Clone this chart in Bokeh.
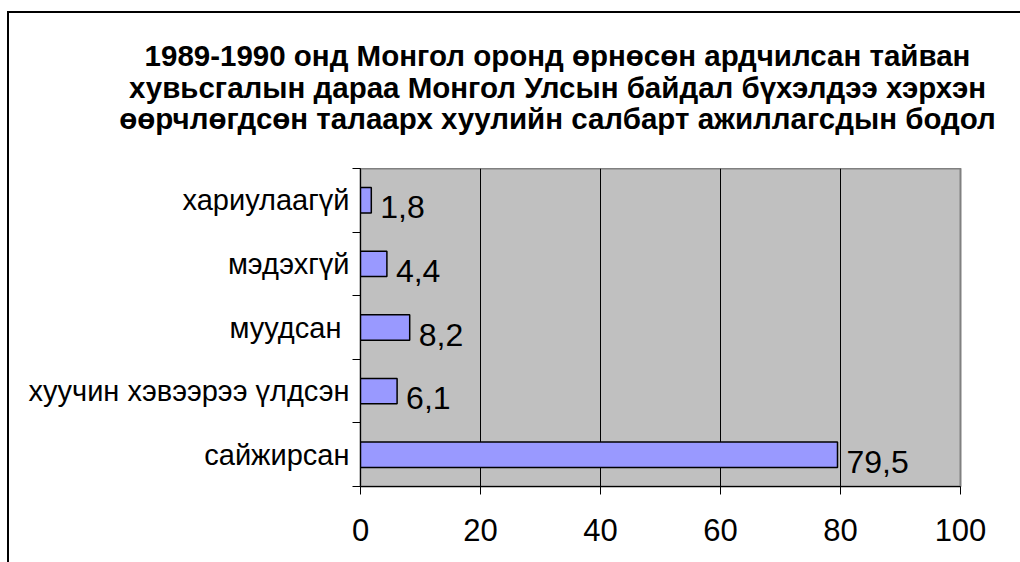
from bokeh.plotting import figure
from bokeh.layouts import column
from bokeh.models import Range1d, FixedTicker, ColumnDataSource, InlineStyleSheet
from bokeh.core.properties import value
from bokeh.embed import file_html
from bokeh.resources import INLINE

# ---- data (bottom to top) ----
categories = ["сайжирсан", "хуучин хэвээрээ үлдсэн", "муудсан ", "мэдэхгүй", "хариулаагүй"]
values = [79.5, 6.1, 8.2, 4.4, 1.8]
value_labels = ["79,5", "6,1", "8,2", "4,4", "1,8"]
x_ticks = [0, 20, 40, 60, 80, 100]
title_lines = [
    "1989-1990 онд Монгол оронд өрнөсөн ардчилсан тайван",
    "хувьсгалын дараа Монгол Улсын байдал бүхэлдээ хэрхэн",
    "өөрчлөгдсөн талаарх хуулийн салбарт ажиллагсдын бодол",
]

FONT = "Liberation Sans"

# ---- title strip (pixel-like coordinates, y grows downward) ----
tp = figure(width=1020, height=168, x_range=Range1d(0, 1020), y_range=Range1d(168, 0),
            min_border=0, output_backend="svg", toolbar_location=None)
tp.frame_align = False
tp.axis.visible = False
tp.grid.visible = False
tp.outline_line_color = None
tp.background_fill_color = None
tp.border_fill_color = None
tsrc = ColumnDataSource(dict(x=[557, 557, 557], y=[55, 87, 118], t=title_lines))
tp.text(x="x", y="y", text="t", source=tsrc, text_font=value(FONT), text_font_size="29.5px",
        text_font_style="bold", text_align="center", text_baseline="alphabetic", text_color="black")

# ---- bar chart ----
ypos = [i + 0.5 for i in range(len(categories))]
src = ColumnDataSource(dict(y=ypos, v=values, lab=value_labels, cat=categories))

p = figure(
    frame_width=600, frame_height=318,
    min_border_left=360, min_border_right=60, min_border_top=0, min_border_bottom=76,
    x_range=Range1d(0, 100), y_range=Range1d(0, len(categories)),
    output_backend="svg", toolbar_location=None,
    background_fill_color="#C0C0C0", border_fill_color=None,
)
p.frame_align = False
p.outline_line_color = "#808080"
p.outline_line_width = 2

p.hbar(y="y", left=0, right="v", height=0.4, source=src,
       fill_color="#9999FF", line_color="black", line_width=1.5)

p.text(x="v", y="y", text="lab", source=src, x_offset=9, y_offset=7,
       text_font=value(FONT), text_font_size="32px", text_color="black",
       text_align="left", text_baseline="alphabetic")

# x axis
p.xaxis.ticker = FixedTicker(ticks=x_ticks)
p.xaxis.major_tick_out = 8
p.xaxis.major_tick_in = 0
p.xaxis.minor_tick_out = 0
p.xaxis.minor_tick_in = 0
p.xaxis.axis_line_color = "black"
p.xaxis.major_tick_line_color = "black"
p.xaxis.major_label_text_font = FONT
p.xaxis.major_label_text_font_size = "31px"
p.xaxis.major_label_text_color = "black"
p.xaxis.major_label_standoff = 24

# y axis: labels at centres, ticks at category boundaries
p.yaxis.ticker = FixedTicker(ticks=ypos, minor_ticks=list(range(len(categories) + 1)))
p.yaxis.major_label_overrides = {y: c for y, c in zip(ypos, categories)}
p.yaxis.major_tick_out = 0
p.yaxis.major_tick_in = 0
p.yaxis.minor_tick_out = 8
p.yaxis.minor_tick_in = 0
p.yaxis.minor_tick_line_color = "black"
p.yaxis.axis_line_color = "black"
p.yaxis.major_label_text_font = FONT
p.yaxis.major_label_text_font_size = "29px"
p.yaxis.major_label_text_color = "black"
p.yaxis.major_label_standoff = 3

# grid
p.ygrid.visible = False
p.xgrid.ticker = FixedTicker(ticks=[20, 40, 60, 80])
p.xgrid.grid_line_color = "black"
p.xgrid.grid_line_width = 1

layout = column(tp, p, spacing=0)
# outer chart border (top and left visible; right/bottom fall outside the window)
layout.stylesheets = [InlineStyleSheet(css="""
:host { position: relative; }
:host::after {
  content: ""; position: absolute; left: 7px; top: 11px;
  width: 1013px; height: 551px; box-sizing: border-box;
  border-top: 2px solid black; border-left: 2px solid black;
  pointer-events: none;
}
""")]

open("out.html", "w").write(file_html(layout, INLINE))
